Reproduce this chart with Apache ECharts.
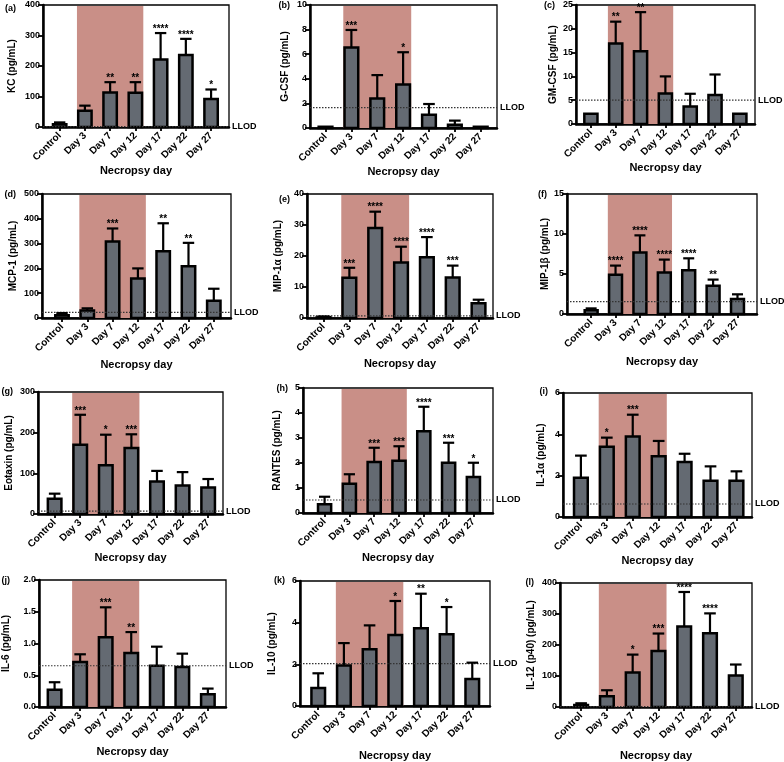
<!DOCTYPE html>
<html>
<head>
<meta charset="utf-8">
<script src="https://cdn.jsdelivr.net/npm/echarts@6/dist/echarts.min.js"></script>
<style>html,body{margin:0;padding:0;background:#fff}#c{width:784px;height:762px}</style>
</head>
<body>
<div id="c"></div>
<script>
// ---------- DATA ----------
const categories = ['Control', 'Day 3', 'Day 7', 'Day 12', 'Day 17', 'Day 22', 'Day 27'];

const kcMean = [9, 53, 113, 112, 221, 236, 92];
const kcSD = [6, 17, 34, 35, 87, 53, 31];
const kcSig = ['', '', '**', '**', '****', '****', '*'];

const gcsfMean = [0.1, 6.54, 2.4, 3.54, 1.08, 0.27, 0.1];
const gcsfSD = [0, 1.43, 1.9, 2.62, 0.87, 0.33, 0];
const gcsfSig = ['', '***', '', '*', '', '', ''];

const gmcsfMean = [2.16, 16.9, 15.3, 6.4, 3.7, 6.1, 2.16];
const gmcsfSD = [0, 4.6, 8.2, 3.6, 2.65, 4.3, 0];
const gmcsfSig = ['', '**', '**', '', '', '', ''];

const mcp1Mean = [11, 30, 308, 159, 269, 209, 70];
const mcp1SD = [9, 9, 53, 41, 113, 94, 48];
const mcp1Sig = ['', '', '***', '', '**', '**', ''];

const mip1aMean = [0.3, 13.0, 29.0, 17.9, 19.6, 13.1, 4.75];
const mip1aSD = [0.2, 3.2, 5.3, 5.1, 6.5, 3.8, 1.15];
const mip1aSig = ['', '***', '****', '****', '****', '***', ''];

const mip1bMean = [0.46, 4.9, 7.7, 5.2, 5.46, 3.54, 1.88];
const mip1bSD = [0.24, 1.15, 2.13, 1.6, 1.5, 0.76, 0.58];
const mip1bSig = ['', '****', '****', '****', '****', '**', ''];

const eotaxinMean = [37.5, 170, 120, 162, 80, 70, 65];
const eotaxinSD = [12.5, 74, 75, 34, 26, 33, 21];
const eotaxinSig = ['', '***', '*', '***', '', '', ''];

const rantesMean = [0.35, 1.17, 2.04, 2.09, 3.27, 2.01, 1.44];
const rantesSD = [0.3, 0.38, 0.57, 0.58, 0.98, 0.8, 0.57];
const rantesSig = ['', '', '***', '***', '****', '***', '*'];

const il1aMean = [1.9, 3.4, 3.89, 2.94, 2.66, 1.76, 1.76];
const il1aSD = [1.07, 0.44, 1.06, 0.74, 0.4, 0.69, 0.45];
const il1aSig = ['', '*', '***', '', '', '', ''];

const il6Mean = [0.27, 0.71, 1.10, 0.85, 0.65, 0.63, 0.2];
const il6SD = [0.12, 0.12, 0.47, 0.33, 0.3, 0.21, 0.09];
const il6Sig = ['', '', '***', '**', '', '', ''];

const il10Mean = [0.86, 1.95, 2.72, 3.41, 3.73, 3.44, 1.3];
const il10SD = [0.71, 1.07, 1.15, 1.63, 1.66, 1.31, 0.78];
const il10Sig = ['', '', '', '*', '**', '*', ''];

const il12Mean = [6.4, 35, 111, 181, 260, 238, 102];
const il12SD = [5.6, 19, 58, 56, 111, 64, 35];
const il12Sig = ['', '', '*', '***', '****', '****', ''];

const llodValues = [1.5, 1.65, 5.0, 23, 0.7, 1.54, 7.3, 0.52, 0.63, 0.65, 2.03, 1.5];
const yMaxValues = [400, 10, 25, 500, 40, 15, 300, 5, 6, 2.0, 6, 400];
const yStepValues = [100, 2, 5, 100, 10, 5, 100, 1, 2, 0.5, 2, 100];
const panelLetters = ['(a)', '(b)', '(c)', '(d)', '(e)', '(f)', '(g)', '(h)', '(i)', '(j)', '(k)', '(l)'];
const yNames = ['KC (pg/mL)', 'G-CSF (pg/mL)', 'GM-CSF (pg/mL)', 'MCP-1 (pg/mL)', 'MIP-1α (pg/mL)', 'MIP-1β (pg/mL)',
  'Eotaxin (pg/mL)', 'RANTES (pg/mL)', 'IL-1α (pg/mL)', 'IL-6 (pg/mL)', 'IL-10 (pg/mL)', 'IL-12 (p40) (pg/mL)'];
const xName = 'Necropsy day';
const shadedRange = [1, 3]; // Day 3 .. Day 12

const means = [kcMean, gcsfMean, gmcsfMean, mcp1Mean, mip1aMean, mip1bMean, eotaxinMean, rantesMean, il1aMean, il6Mean, il10Mean, il12Mean];
const sds = [kcSD, gcsfSD, gmcsfSD, mcp1SD, mip1aSD, mip1bSD, eotaxinSD, rantesSD, il1aSD, il6SD, il10SD, il12SD];
const sigs = [kcSig, gcsfSig, gmcsfSig, mcp1Sig, mip1aSig, mip1bSig, eotaxinSig, rantesSig, il1aSig, il6Sig, il10Sig, il12Sig];

// ---------- LAYOUT ----------
const layouts = [
  {l: 43, t: 5, w: 186, h: 122, xmin: -0.66, xmax: 6.71, gy: 26, gx: 35, lx: 16, ly: 9},
  {l: 310, t: 5, w: 187, h: 123, xmin: -0.60, xmax: 6.63, gy: 20, gx: 29, lx: 290, ly: 6},
  {l: 576, t: 5, w: 179, h: 119, xmin: -0.60, xmax: 6.61, gy: 18, gx: 38, lx: 555, ly: 6},
  {l: 42, t: 194, w: 189, h: 124, xmin: -0.79, xmax: 6.68, gy: 24, gx: 41, lx: 16, ly: 195},
  {l: 307, t: 194, w: 186, h: 124, xmin: -0.64, xmax: 6.56, gy: 24, gx: 40, lx: 290, ly: 200},
  {l: 567, t: 194, w: 190, h: 120, xmin: -0.99, xmax: 6.80, gy: 17, gx: 42, lx: 547, ly: 195},
  {l: 38, t: 392, w: 185, h: 122, xmin: -0.65, xmax: 6.58, gy: 24, gx: 38, lx: 13, ly: 392},
  {l: 303, t: 388, w: 190, h: 125, xmin: -0.87, xmax: 6.79, gy: 21, gx: 39, lx: 288, ly: 389},
  {l: 563, t: 393, w: 189, h: 124, xmin: -0.69, xmax: 6.60, gy: 17, gx: 37, lx: 548, ly: 392},
  {l: 39, t: 580, w: 187, h: 127, xmin: -0.61, xmax: 6.71, gy: 28, gx: 39, lx: 10, ly: 581},
  {l: 300, t: 581, w: 190, h: 125, xmin: -0.71, xmax: 6.69, gy: 23, gx: 44, lx: 285, ly: 581},
  {l: 560, t: 583, w: 192, h: 125, xmin: -0.82, xmax: 6.63, gy: 24, gx: 43, lx: 534, ly: 583}
];

const FONT = '"Liberation Sans", Arial, Helvetica, sans-serif';
const BAR_FILL = '#646a72';
const SHADE = '#c98f87';
const BAR_W = 0.53; // in category units (inner width)
const idxs = categories.map((c, i) => i);

const grid = [], xAxis = [], yAxis = [], series = [], graphic = [];

means.forEach((meanArr, k) => {
  const L = layouts[k];
  const sdArr = sds[k], sigArr = sigs[k];
  grid.push({left: L.l, top: L.t, width: L.w, height: L.h, show: true, borderColor: '#000', borderWidth: 1.3, backgroundColor: 'transparent'});
  xAxis.push({
    gridIndex: k, type: 'value', min: L.xmin, max: L.xmax,
    name: xName, nameLocation: 'middle', nameGap: L.gx,
    nameTextStyle: {fontFamily: FONT, fontWeight: 'bold', fontSize: 11, color: '#000'},
    axisLine: {show: true, onZero: false, lineStyle: {color: '#000', width: 2.5}},
    axisTick: {show: true, customValues: idxs, length: 4, lineStyle: {color: '#000', width: 1.8}},
    axisLabel: {show: true, customValues: idxs, formatter: v => categories[Math.round(v)] || '', rotate: 45,
      fontFamily: FONT, fontSize: 10, fontWeight: 'bold', color: '#000', margin: 7, hideOverlap: false},
    splitLine: {show: false}
  });
  const step = yStepValues[k];
  yAxis.push({
    gridIndex: k, type: 'value', min: 0, max: yMaxValues[k], interval: step,
    name: yNames[k], nameLocation: 'middle', nameGap: L.gy,
    nameTextStyle: {fontFamily: FONT, fontWeight: 'bold', fontSize: 10, color: '#000'},
    axisLine: {show: true, onZero: false, lineStyle: {color: '#000', width: 2.5}},
    axisTick: {show: true, length: 5, lineStyle: {color: '#000', width: 1.8}},
    axisLabel: {fontFamily: FONT, fontSize: 9, fontWeight: 'bold', color: '#000', margin: 3,
      formatter: v => (step < 1 ? v.toFixed(1) : String(v))},
    splitLine: {show: false}
  });

  // shaded exposure period
  series.push({
    type: 'custom', xAxisIndex: k, yAxisIndex: k, z: 1, silent: true,
    data: [[shadedRange[0], shadedRange[1]]],
    encode: {x: [0, 1]},
    renderItem: (params, api) => {
      const a = api.coord([api.value(0), 0]);
      const b = api.coord([api.value(1), 0]);
      const half = api.size([BAR_W, 0])[0] / 2 + 1.25;
      const cs = params.coordSys;
      return {type: 'rect', shape: {x: a[0] - half, y: cs.y + 1, width: b[0] - a[0] + 2 * half, height: cs.height - 1},
        style: {fill: SHADE}};
    }
  });

  // bars
  series.push({
    type: 'custom', xAxisIndex: k, yAxisIndex: k, z: 3,
    data: meanArr.map((m, i) => [i, m]),
    encode: {x: 0, y: 1},
    renderItem: (params, api) => {
      const i = api.value(0), v = api.value(1);
      const top = api.coord([i, v]);
      const base = api.coord([i, 0]);
      const w = api.size([BAR_W, 0])[0];
      return {type: 'rect', shape: {x: top[0] - w / 2, y: top[1], width: w, height: base[1] - top[1]},
        style: {fill: BAR_FILL, stroke: '#000', lineWidth: 2.5}};
    }
  });

  // LLOD line
  series.push({
    type: 'custom', xAxisIndex: k, yAxisIndex: k, z: 4, silent: true,
    data: [[0, llodValues[k]]],
    encode: {x: 0, y: 1},
    renderItem: (params, api) => {
      const p = api.coord([0, api.value(1)]);
      const cs = params.coordSys;
      return {type: 'group', children: [
        {type: 'line', shape: {x1: cs.x, y1: p[1], x2: cs.x + cs.width, y2: p[1]},
          style: {stroke: '#333', lineWidth: 1.2, lineDash: [1.5, 1.5]}},
        {type: 'text', style: {text: 'LLOD', x: cs.x + cs.width + 3, y: p[1], fill: '#000',
          font: 'bold 9px ' + FONT, align: 'left', verticalAlign: 'middle', textAlign: 'left', textVerticalAlign: 'middle'}}
      ]};
    }
  });

  // error bars and significance stars
  series.push({
    type: 'custom', xAxisIndex: k, yAxisIndex: k, z: 5,
    data: meanArr.map((m, i) => [i, m, m + sdArr[i]]),
    encode: {x: 0, y: [1, 2]},
    renderItem: (params, api) => {
      const i = api.value(0);
      const lo = api.coord([i, api.value(1)]);
      const hi = api.coord([i, api.value(2)]);
      const cap = api.size([BAR_W * 0.85, 0])[0] / 2;
      const children = [];
      if (lo[1] - hi[1] > 0.5) {
        children.push({type: 'line', shape: {x1: lo[0], y1: lo[1], x2: hi[0], y2: hi[1]}, style: {stroke: '#000', lineWidth: 2.2}});
        children.push({type: 'line', shape: {x1: hi[0] - cap, y1: hi[1], x2: hi[0] + cap, y2: hi[1]}, style: {stroke: '#000', lineWidth: 2.2}});
      }
      const s = sigArr[params.dataIndex];
      if (s) {
        children.push({type: 'text', style: {text: s, x: hi[0], y: hi[1] + 1, fill: '#000', font: 'bold 10px ' + FONT,
          align: 'center', verticalAlign: 'bottom', textAlign: 'center', textVerticalAlign: 'bottom'}});
      }
      return {type: 'group', children};
    }
  });

  graphic.push({type: 'text', x: L.lx, y: L.ly, z: 10,
    style: {text: panelLetters[k], fill: '#000', font: 'bold 9px ' + FONT,
      align: 'right', verticalAlign: 'middle', textAlign: 'right', textVerticalAlign: 'middle'}});
});

const chart = echarts.init(document.getElementById('c'), null, {renderer: 'canvas'});
chart.setOption({animation: false, backgroundColor: '#fff', grid, xAxis, yAxis, series, graphic});
</script>
</body>
</html>
